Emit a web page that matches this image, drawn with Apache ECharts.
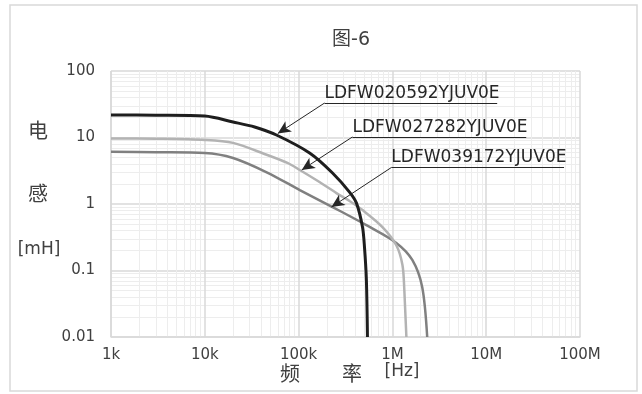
<!DOCTYPE html>
<html>
<head>
<meta charset="utf-8">
<script src="https://cdn.jsdelivr.net/npm/echarts@6/dist/echarts.min.js"></script>
<style>html,body{margin:0;padding:0;background:#fff;}#c{width:642px;height:394px;}</style>
</head>
<body>
<div id="c"></div>
<script>
// ---- data ----
var seriesNames = ['LDFW020592YJUV0E', 'LDFW027282YJUV0E', 'LDFW039172YJUV0E'];
var freqA = [1000, 3000, 10000, 20000, 34000, 58000, 131000, 230000, 349000, 414000, 480000, 504000, 528000, 542000];
var indA  = [21.8, 21.6, 21.0, 17.1, 14.4, 10.9, 5.85, 2.93, 1.51, 1.03, 0.45, 0.225, 0.072, 0.01];
var freqB = [1000, 3000, 10000, 20000, 45700, 76000, 103000, 167000, 253000, 349000, 480000, 783000, 1100000, 1280000, 1340000, 1410000];
var indB  = [9.7, 9.6, 9.2, 8.3, 5.5, 4.15, 3.25, 2.14, 1.46, 1.11, 0.81, 0.45, 0.24, 0.121, 0.051, 0.01];
var freqC = [1000, 3000, 10000, 20000, 45700, 103000, 230000, 349000, 528000, 1100000, 1630000, 2080000, 2350000];
var indC  = [6.1, 6.0, 5.85, 4.92, 3.0, 1.62, 0.90, 0.66, 0.48, 0.26, 0.144, 0.056, 0.01];
var xTickLabels = ['1k', '10k', '100k', '1M', '10M', '100M'];
var yTickLabels = ['0.01', '0.1', '1', '10', '100'];
// annotation anchors (data coordinates): arrow tip, underline start, underline end
var annTip   = [[60000, 11.5], [108000, 3.25], [224000, 0.9]];
var annStart = [[189000, 33], [375000, 10.2], [975000, 3.54]];
var annEndF  = [13100000, 26700000, 67600000];

function zip(f, v) { return f.map(function (x, i) { return [x, v[i]]; }); }
var colors = ['#1e1e1e', '#b3b3b3', '#808080'];
var widths = [3, 2.5, 2.5];
var datas = [zip(freqA, indA), zip(freqB, indB), zip(freqC, indC)];

var chart = echarts.init(document.getElementById('c'), null, {renderer: 'canvas'});
var fontLatin = 'DejaVu Sans';
var fontCJK = 'Noto Sans CJK SC';

var series = datas.map(function (d, i) {
  return {
    name: seriesNames[i],
    type: 'line',
    data: d,
    symbol: 'none',
    smooth: 0.3,
    lineStyle: {color: colors[i], width: widths[i]},
    z: 3 - i + 2,
    markLine: {
      silent: true,
      animation: false,
      symbol: ['none', 'none'],
      lineStyle: {color: '#262626', width: 1, type: 'solid'},
      label: {show: false},
      data: [
        [
          {coord: annTip[i], symbol: 'arrow', symbolSize: [9, 13]},
          {coord: annStart[i], symbol: 'none'}
        ],
        [
          {coord: annStart[i], symbol: 'none',
           label: {show: true, position: 'insideStartTop', formatter: seriesNames[i],
                   color: '#262626', fontSize: 17, fontFamily: fontLatin, distance: [0, 1]}},
          {coord: [annEndF[i], annStart[i][1]], symbol: 'none'}
        ]
      ]
    }
  };
});

var axisCommon = {
  type: 'log',
  logBase: 10,
  axisTick: {show: false},
  minorTick: {show: false, splitNumber: 9},
  splitLine: {show: true, lineStyle: {color: '#d9d9d9', width: 1.5}},
  minorSplitLine: {show: true, lineStyle: {color: '#ededed', width: 1}},
  axisLabel: {color: '#404040', fontSize: 15, fontFamily: fontLatin}
};

var option = {
  animation: false,
  backgroundColor: '#ffffff',
  title: {
    text: '图-6',
    left: 346,
    top: 26,
    textAlign: 'center',
    textStyle: {fontSize: 19, fontWeight: 'normal', color: '#404040', fontFamily: 'DejaVu Sans, Noto Sans CJK SC'}
  },
  grid: {left: 111, top: 71, right: 62, bottom: 57, containLabel: false},
  xAxis: Object.assign({}, axisCommon, {
    min: 1000, max: 100000000,
    axisLine: {show: true, lineStyle: {color: '#d9d9d9', width: 1.5}},
    axisLabel: Object.assign({}, axisCommon.axisLabel, {
      margin: 11,
      formatter: function (v) { return xTickLabels[Math.round(Math.log10(v)) - 3]; }
    })
  }),
  yAxis: Object.assign({}, axisCommon, {
    min: 0.01, max: 100,
    axisLine: {show: false},
    axisLabel: Object.assign({}, axisCommon.axisLabel, {
      margin: 16,
      formatter: function (v) { return yTickLabels[Math.round(Math.log10(v)) + 2]; }
    })
  }),
  graphic: [
    {type: 'rect', shape: {x: 10, y: 5, width: 627, height: 386}, style: {fill: 'none', stroke: '#d9d9d9', lineWidth: 1.5}, silent: true},
    {type: 'text', x: 38, y: 130, style: {text: '电', fontSize: 20, fontFamily: fontCJK, fill: '#404040', align: 'center', verticalAlign: 'middle'}},
    {type: 'text', x: 38, y: 193, style: {text: '感', fontSize: 20, fontFamily: fontCJK, fill: '#404040', align: 'center', verticalAlign: 'middle'}},
    {type: 'text', x: 39, y: 250, style: {text: '[mH]', fontSize: 17, fontFamily: fontLatin, fill: '#404040', align: 'center', verticalAlign: 'middle'}},
    {type: 'text', x: 290, y: 373, style: {text: '频', fontSize: 20, fontFamily: fontCJK, fill: '#404040', align: 'center', verticalAlign: 'middle'}},
    {type: 'text', x: 352, y: 373, style: {text: '率', fontSize: 20, fontFamily: fontCJK, fill: '#404040', align: 'center', verticalAlign: 'middle'}},
    {type: 'text', x: 402, y: 372, style: {text: '[Hz]', fontSize: 17, fontFamily: fontLatin, fill: '#404040', align: 'center', verticalAlign: 'middle'}}
  ],
  series: series
};
chart.setOption(option);
</script>
</body>
</html>
